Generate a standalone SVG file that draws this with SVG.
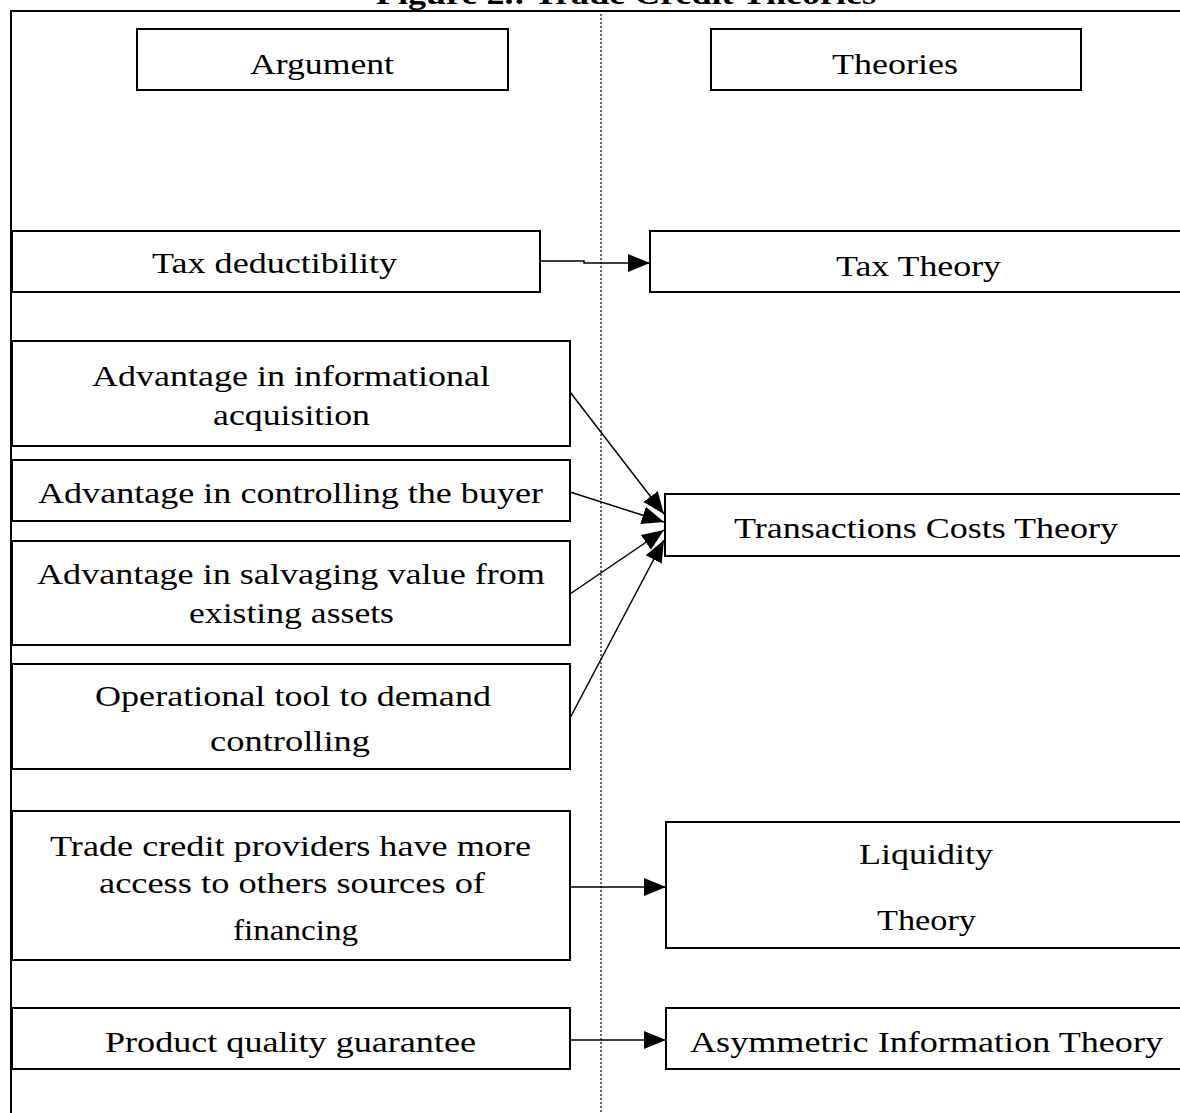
<svg xmlns="http://www.w3.org/2000/svg" width="1180" height="1113" viewBox="0 0 1180 1113">
<style>
.box{fill:#fff;stroke:#000;stroke-width:2}
.t{font-family:"Liberation Serif","Times New Roman",serif;font-size:30px;fill:#000;text-anchor:start}
.c{stroke:#000;stroke-width:1.5;fill:none}
</style>
<defs>
<marker id="ah" markerUnits="userSpaceOnUse" markerWidth="24" markerHeight="20" refX="22" refY="10" orient="auto">
<path d="M0,1 L22,10 L0,19 Z" fill="#000"/>
</marker>
</defs>
<rect width="1180" height="1113" fill="#fff"/>
<text x="376" y="4" font-family="Liberation Serif,serif" font-size="30" font-weight="bold" textLength="500" lengthAdjust="spacingAndGlyphs">Figure 2.: Trade Credit Theories</text>
<g id="frame">
<path d="M10,11 H1180 M11,11 V1113" stroke="#000" stroke-width="2" fill="none"/>
<line x1="601" y1="14" x2="601" y2="1113" stroke="#000" stroke-width="1.2" stroke-dasharray="2 2"/>
</g>
<g id="n-argument"><rect class="box" x="137" y="29" width="371" height="61"/><text class="t" x="250" y="74" textLength="144" lengthAdjust="spacingAndGlyphs">Argument</text></g>
<g id="n-theories"><rect class="box" x="711" y="29" width="370" height="61"/><text class="t" x="832" y="74" textLength="126" lengthAdjust="spacingAndGlyphs">Theories</text></g>
<g id="n-tax"><rect class="box" x="12" y="231" width="528" height="61"/><text class="t" x="152" y="273" textLength="245" lengthAdjust="spacingAndGlyphs">Tax deductibility</text></g>
<g id="n-taxtheory"><rect class="box" x="650" y="231" width="540" height="61"/><text class="t" x="836" y="276" textLength="165" lengthAdjust="spacingAndGlyphs">Tax Theory</text></g>
<g id="n-info"><rect class="box" x="12" y="341" width="558" height="105"/><text class="t" x="92" y="386" textLength="398" lengthAdjust="spacingAndGlyphs">Advantage in informational</text><text class="t" x="213" y="425" textLength="157" lengthAdjust="spacingAndGlyphs">acquisition</text></g>
<g id="n-control"><rect class="box" x="12" y="460" width="558" height="61"/><text class="t" x="38" y="503" textLength="505" lengthAdjust="spacingAndGlyphs">Advantage in controlling the buyer</text></g>
<g id="n-salvage"><rect class="box" x="12" y="541" width="558" height="104"/><text class="t" x="37" y="584" textLength="508" lengthAdjust="spacingAndGlyphs">Advantage in salvaging value from</text><text class="t" x="189" y="623" textLength="205" lengthAdjust="spacingAndGlyphs">existing assets</text></g>
<g id="n-oper"><rect class="box" x="12" y="664" width="558" height="105"/><text class="t" x="95" y="706" textLength="396" lengthAdjust="spacingAndGlyphs">Operational tool to demand</text><text class="t" x="210" y="751" textLength="160" lengthAdjust="spacingAndGlyphs">controlling</text></g>
<g id="n-trade"><rect class="box" x="12" y="811" width="558" height="149"/><text class="t" x="50" y="856" textLength="481" lengthAdjust="spacingAndGlyphs">Trade credit providers have more</text><text class="t" x="99" y="893" textLength="386" lengthAdjust="spacingAndGlyphs">access to others sources of</text><text class="t" x="233" y="940" textLength="125" lengthAdjust="spacingAndGlyphs">financing</text></g>
<g id="n-product"><rect class="box" x="12" y="1008" width="558" height="61"/><text class="t" x="105" y="1052" textLength="371" lengthAdjust="spacingAndGlyphs">Product quality guarantee</text></g>
<g id="n-transactions"><rect class="box" x="665" y="494" width="525" height="62"/><text class="t" x="734" y="538" textLength="384" lengthAdjust="spacingAndGlyphs">Transactions Costs Theory</text></g>
<g id="n-liquidity"><rect class="box" x="666" y="822" width="524" height="126"/><text class="t" x="859" y="864" textLength="134" lengthAdjust="spacingAndGlyphs">Liquidity</text><text class="t" x="877" y="930" textLength="99" lengthAdjust="spacingAndGlyphs">Theory</text></g>
<g id="n-asym"><rect class="box" x="666" y="1008" width="524" height="61"/><text class="t" x="690" y="1052" textLength="473" lengthAdjust="spacingAndGlyphs">Asymmetric Information Theory</text></g>
<g id="connectors">
<polyline class="c" points="540,261 584,261 584,263 650,263" marker-end="url(#ah)"/>
<line class="c" x1="570" y1="392" x2="664" y2="514" marker-end="url(#ah)"/>
<line class="c" x1="570" y1="492" x2="664" y2="522" marker-end="url(#ah)"/>
<line class="c" x1="570" y1="594" x2="664" y2="530" marker-end="url(#ah)"/>
<line class="c" x1="570" y1="718" x2="664" y2="540" marker-end="url(#ah)"/>
<line class="c" x1="570" y1="887" x2="666" y2="887" marker-end="url(#ah)"/>
<line class="c" x1="570" y1="1040" x2="666" y2="1040" marker-end="url(#ah)"/>
</g>
</svg>
